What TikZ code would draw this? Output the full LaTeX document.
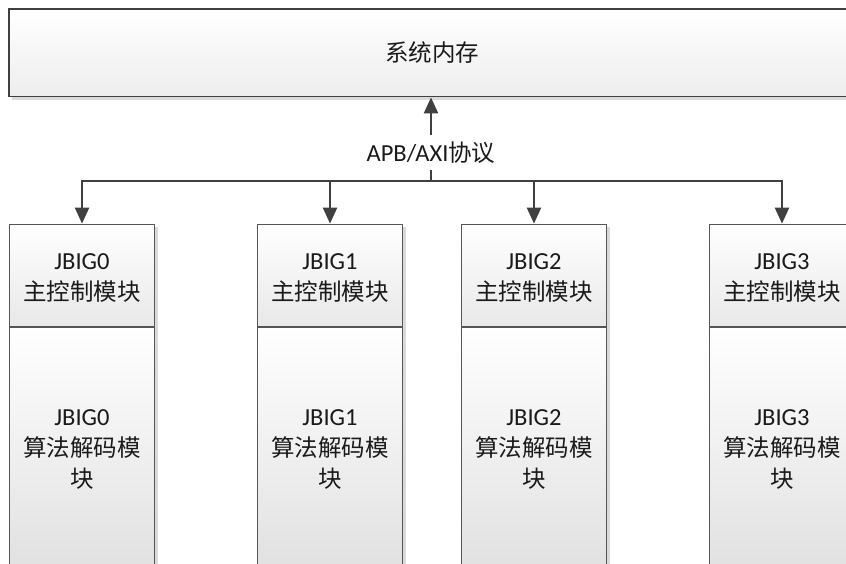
\documentclass[tikz,border=0pt]{standalone}
\usepackage{fontspec}
\setmainfont{Carlito}
\newfontfamily\cjk{Noto Sans CJK SC}
\usetikzlibrary{arrows.meta}
\definecolor{edgegray}{HTML}{555555}
\definecolor{arrgray}{HTML}{404040}
\definecolor{txtgray}{HTML}{1A1A1A}
\definecolor{shadowgray}{HTML}{DADADA}
\newcommand\zh[1]{{\cjk\fontsize{23.5}{31}\selectfont #1}}
\tikzset{
  blk/.style={draw=edgegray, line width=1.3pt, top color=white, bottom color=black!9,
    minimum width=145pt, inner sep=0pt, align=center, text=txtgray,
    font=\fontsize{24.5}{31}\selectfont},
  conn/.style={draw=arrgray, line width=2.4pt, -{Triangle[length=16pt,width=14pt]}},
  wire/.style={draw=arrgray, line width=2.4pt},
  shade3/.style={fill=shadowgray, draw=none}
}
\begin{document}
\begin{tikzpicture}[x=1pt,y=-1pt]
\useasboundingbox (0,0) rectangle (846,564);
\fill[white] (0,0) rectangle (846,564);
\clip (0,0) rectangle (846,564);
% shadows
\fill[shade3] (12,12) rectangle (858,100);
\foreach \cx in {82,330,534,782}{
  \fill[shade3] (\cx-72.5+3,227) rectangle (\cx+72.5+3,600);
}
% top memory box
\node[blk, draw=arrgray, line width=1.8pt, top color=white, bottom color=black!7,
      minimum width=846pt, minimum height=87.5pt] (mem) at (432,52.8) {\zh{系统内存}};
% controller and algorithm boxes
\node[blk, minimum height=102.5pt] (c0) at (82,275.5) {};
\node[blk, minimum height=102.5pt] (c1) at (330,275.5) {};
\node[blk, minimum height=102.5pt] (c2) at (534,275.5) {};
\node[blk, minimum height=102.5pt] (c3) at (782,275.5) {};
\node[blk, minimum height=245pt, bottom color=black!12] (a0) at (82,449.5) {JBIG0\\\zh{算法解码模}\\\zh{块}};
\node[blk, minimum height=245pt, bottom color=black!12] (a1) at (330,449.5) {JBIG1\\\zh{算法解码模}\\\zh{块}};
\node[blk, minimum height=245pt, bottom color=black!12] (a2) at (534,449.5) {JBIG2\\\zh{算法解码模}\\\zh{块}};
\node[blk, minimum height=245pt, bottom color=black!12] (a3) at (782,449.5) {JBIG3\\\zh{算法解码模}\\\zh{块}};
\foreach \i in {0,1,2,3}{
  \node[align=center, inner sep=0pt, text=txtgray, font=\fontsize{24.5}{31}\selectfont]
    (t\i) at ([yshift=-3pt]c\i.center) {JBIG\i\\\zh{主控制模块}};
}
% bus label
\node[inner xsep=3pt, inner ysep=0pt, minimum height=35pt, text=txtgray,
      font=\fontsize{24.5}{26}\selectfont] (lbl) at (431,152.5) {APB/AXI\zh{协议}};
\coordinate (bus) at (431,181);
% connectors
\draw[wire] (bus) -- (lbl.south);
\draw[conn] (lbl.north) -- (lbl.north |- mem.south);
\draw[conn] (bus) -| (c0.north);
\draw[conn] (bus) -| (c3.north);
\draw[conn] (c1.north |- bus) -- (c1.north);
\draw[conn] (c2.north |- bus) -- (c2.north);
\end{tikzpicture}
\end{document}
